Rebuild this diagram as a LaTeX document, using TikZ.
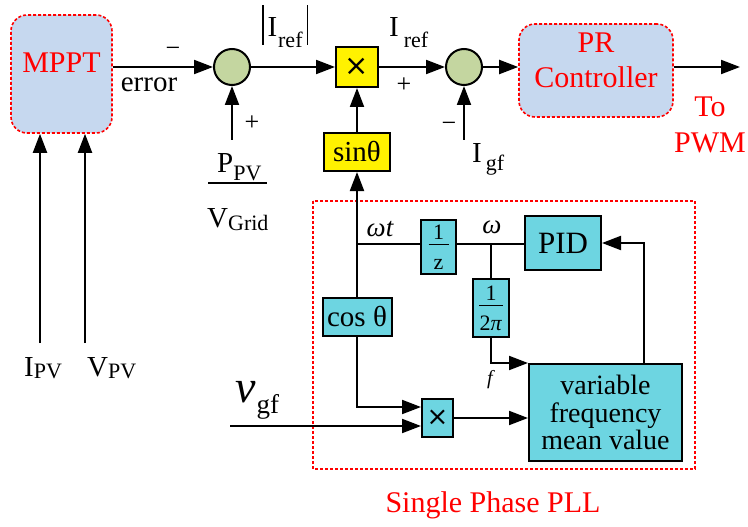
\documentclass[tikz,border=0pt]{standalone}
\usepackage{fontspec}
\setmainfont{Liberation Serif}
\newfontfamily\symfont{DejaVu Sans}
\usetikzlibrary{arrows.meta}
\definecolor{mpptblue}{HTML}{C6D8EF}
\definecolor{sumgreen}{HTML}{C4D6A0}
\definecolor{pllcyan}{HTML}{6DD5E1}
\newcommand{\fs}[1]{\fontsize{#1}{#1}\selectfont}
\newcommand{\sbs}[2]{\raisebox{-#1pt}{\fs{22}#2}}
\begin{document}
\begin{tikzpicture}[x=1pt,y=-1pt,
 ln/.style={line width=2pt},
 arr/.style={line width=2pt,-{Triangle[length=19pt,width=14pt]}},
 reddash/.style={draw=red, dash pattern=on 3pt off 2pt, line width=1.6pt},
 ctrl/.style={reddash, rounded corners=16pt, fill=mpptblue, inner sep=0pt},
 sumc/.style={circle, draw, line width=2pt, fill=sumgreen, minimum size=36pt, inner sep=0pt},
 ybox/.style={draw, line width=2pt, fill=yellow, inner sep=0pt, font=\fs{29}},
 cbox/.style={draw, line width=2pt, fill=pllcyan, inner sep=0pt, align=center},
 frac/.style={cbox, font=\fontsize{22}{15}\selectfont},
 lbl/.style={inner sep=0pt, font=\fs{29}},
 pm/.style={inner sep=0pt, font=\fs{26}},
 redlbl/.style={inner sep=0pt, font=\fontsize{30}{35}\selectfont, text=red, align=center},
]
\useasboundingbox (0,0) rectangle (748,527);

% --- top row ---
\node[ctrl, minimum width=101pt, minimum height=118pt,
  label={[redlbl, yshift=11pt]center:MPPT}] (mppt) at (61.5,74) {};
\node[sumc] (sum1) at (232,67) {};
\node[ybox, minimum width=42pt, minimum height=40pt] (mult) at (357,67) {\symfont ×};
\node[ybox, minimum width=66pt, minimum height=38pt] (sin) at (357,152) {sinθ};
\node[sumc] (sum2) at (464,67) {};
\node[ctrl, minimum width=154pt, minimum height=93pt,
  label={[redlbl, yshift=10pt]center:PR\\Controller}] (pr) at (596,70.5) {};
\coordinate (pwm) at (740,67);
\coordinate (ipv) at (40,343);
\coordinate (vpv) at (85,343);
\coordinate (ppvin) at (232,140);
\coordinate (igfin) at (464,140);

\draw[arr] (mppt.east |- sum1) -- (sum1);
\draw[arr] (sum1) -- (mult);
\draw[arr] (mult) -- (sum2);
\draw[arr] (sum2) -- (pr.west |- sum2);
\draw[arr] (pr.east |- pwm) -- (pwm);
\draw[arr] (ipv) -- (ipv |- mppt.south);
\draw[arr] (vpv) -- (vpv |- mppt.south);
\draw[arr] (ppvin) -- (sum1);
\draw[arr] (igfin) -- (sum2);
\draw[arr] (sin) -- (mult);

% labels top
\node[lbl] (err) at (149,85) {error};
\node[pm] (m1) at (173,52) {−};
\node[pm] (p1) at (252,123) {+};
\node[pm] (p2) at (404,85) {+};
\node[pm] (m2) at (449,127) {−};
\node[lbl, anchor=base west] (absiref) at (262,37) {\rule[-8pt]{1.3pt}{40pt}\hspace{4pt}I\hspace{1pt}\sbs{11}{ref}\hspace{4pt}\rule[-8pt]{1.3pt}{40pt}};
\node[lbl, anchor=base west] (iref) at (389,37) {I\hspace{5pt}\sbs{11}{ref}};
\node[lbl, anchor=base west] (igf) at (472,163) {I\hspace{4pt}\sbs{7}{gf}};
\node[lbl, anchor=base west] (ipvl) at (24,376) {I\sbs{2}{PV}};
\node[lbl, anchor=base west] (vpvl) at (87,376) {V\sbs{2}{PV}};
\node[lbl, anchor=base west] (ppvl) at (217,172) {P\sbs{8}{PV}};
\node[lbl, anchor=base west] (vgridl) at (207,227) {V\sbs{3}{Grid}};
\draw[line width=1.3pt] (208,183) -- (267,183);
\node[redlbl] (topwm) at (710,107) {To};
\node[redlbl] (topwm2) at (710,143) {PWM};

% --- PLL ---
\draw[reddash] (313,201) rectangle (695,469);
\node[redlbl] (plltitle) at (493,505) {Single Phase PLL};

\node[cbox, minimum width=69pt, minimum height=38pt, font=\fs{29}] (cos) at (357,317) {cos θ};
\node[frac, minimum width=35pt, minimum height=54pt] (zbox) at (438.5,247) {1\\\rule[9pt]{20pt}{1.2pt}\\z};
\node[cbox, minimum width=76pt, minimum height=54pt, font=\fs{31}] (pid) at (563,243) {PID};
\node[frac, minimum width=36pt, minimum height=58pt] (pibox) at (491,308) {1\\\rule[9pt]{24pt}{1.2pt}\\2\textit{π}};
\node[cbox, minimum width=153pt, minimum height=97pt, font=\fontsize{28}{27.5}\selectfont] (var) at (605.5,412.5) {variable\\frequency\\mean value};
\node[cbox, minimum width=31pt, minimum height=38pt, font=\fs{26}] (mult2) at (437.5,418) {\symfont ×};

\coordinate (j1) at (357,244);
\coordinate (j2) at (491,244);
\coordinate (fbx) at (644,0);
\coordinate (vgfin) at (230,426);

\draw[arr] (cos) -- (sin);
\draw[ln] (j1) -- (zbox.west |- j1);
\draw[ln] (zbox.east |- j1) -- (pid.west |- j1);
\draw[ln] (j2) -- (pibox.north);
\draw[arr] (pibox.south) |- (var.north west);
\draw[arr] (var.north -| fbx) |- (pid.east);
\draw[arr] (cos.south) |- ([yshift=11pt]mult2.west);
\draw[arr] (vgfin) -- (mult2.west |- vgfin);
\draw[arr] (mult2.east) -- (var.west |- mult2.east);

\node[lbl, font=\fs{27}\itshape] (wt) at (380,229) {ωt};
\node[lbl, font=\fs{27}\itshape] (w) at (492,227) {ω};
\node[lbl, font=\fs{20}\itshape] (fl) at (490,380) {f};
\node[lbl, anchor=base west] (vgf) at (235,402) {\fs{46}\itshape v\hspace{1pt}\raisebox{-11pt}{\fs{27}\upshape gf}};
\end{tikzpicture}
\end{document}
